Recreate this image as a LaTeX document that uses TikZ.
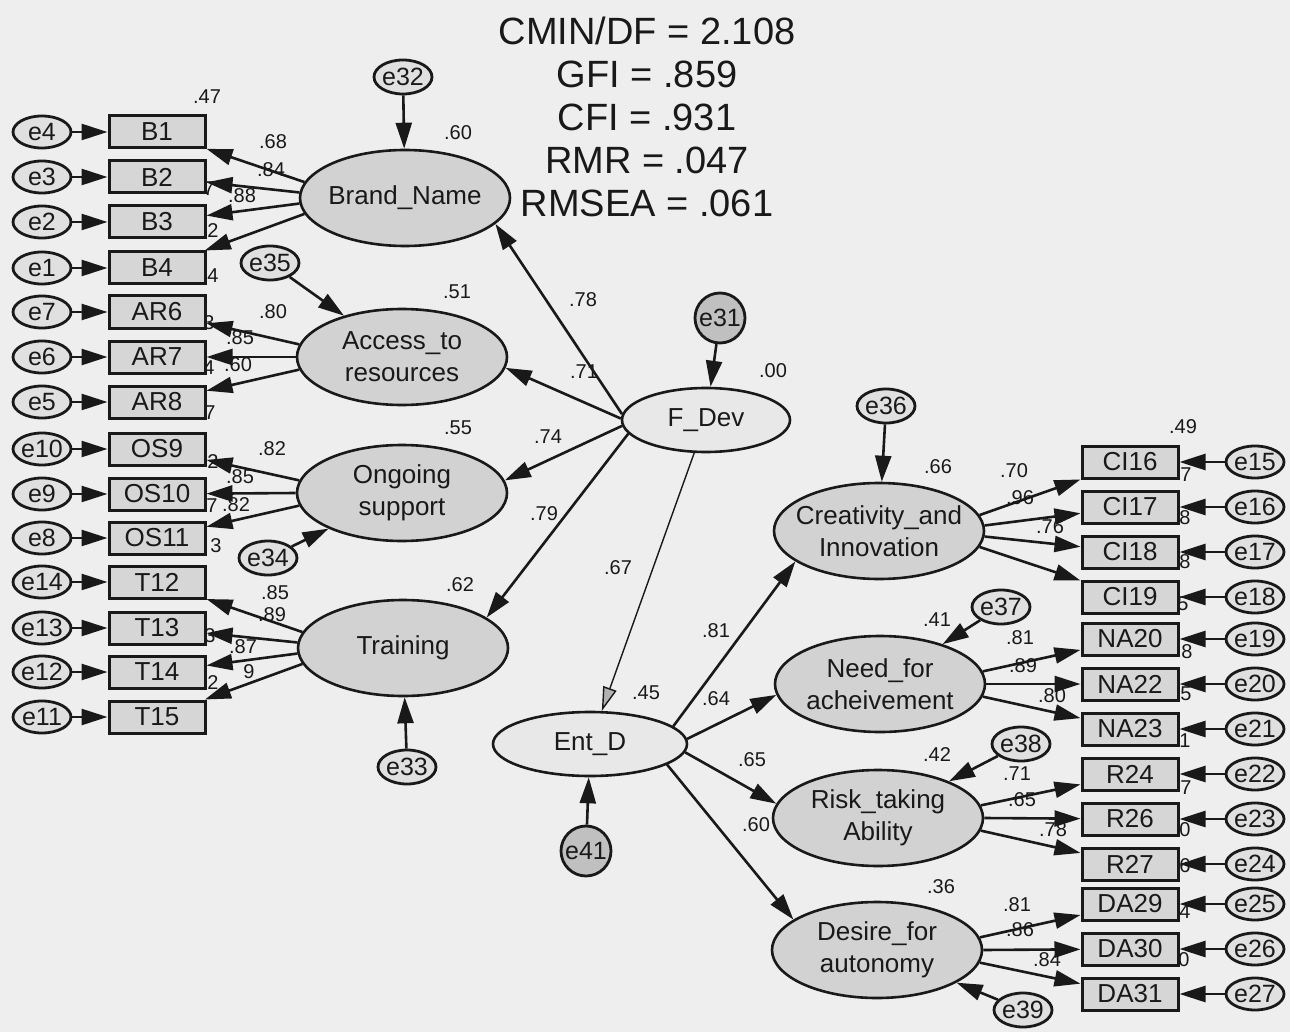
\documentclass[tikz,border=0pt]{standalone}
\usepackage{fontspec}
\setmainfont{Liberation Sans}
\usetikzlibrary{arrows.meta,shapes.geometric}
\definecolor{bggray}{RGB}{238,238,238}
\definecolor{boxgray}{RGB}{214,214,214}
\definecolor{latgray}{RGB}{210,210,210}
\definecolor{secgray}{RGB}{232,232,232}
\definecolor{errgray}{RGB}{224,224,224}
\definecolor{circgray}{RGB}{192,192,192}
\definecolor{inkgray}{RGB}{25,25,25}

\begin{document}
\begin{tikzpicture}[x=0.5pt, y=-0.5pt,
    every node/.style={inner sep=0pt, text=inkgray},
    arr/.style={draw=inkgray, line width=1.3pt, -{Triangle[length=13pt,width=8pt]}},
    thinarr/.style={draw=inkgray, line width=0.7pt, -{Triangle[length=12pt,width=7pt,fill=gray!60]}},
    indbox/.style={draw=inkgray, line width=1.5pt, fill=boxgray, minimum width=48pt, minimum height=16pt, font=\fontsize{13}{13}\selectfont},
    errell/.style={ellipse, draw=inkgray, line width=1.4pt, fill=errgray, minimum width=29pt, minimum height=16pt, inner xsep=-2pt, font=\fontsize{12.5}{12.5}\selectfont},
    errlat/.style={errell, minimum width=29pt, minimum height=17pt},
    errcirc/.style={circle, draw=inkgray, line width=1.4pt, fill=circgray, minimum size=25pt, font=\fontsize{12.5}{12.5}\selectfont},
    latent/.style={ellipse, draw=inkgray, line width=1.3pt, fill=latgray, minimum width=105pt, minimum height=48pt, inner xsep=-10pt, align=center, font=\fontsize{13}{16}\selectfont},
    second/.style={latent, fill=secgray, minimum height=32pt},
    num/.style={font=\fontsize{10}{10}\selectfont},
    fitstats/.style={align=center, font=\fontsize{19}{21.5}\selectfont}]

    % 1. Page background (photo of a printed page)
    \fill[bggray] (0,0) rectangle (1290,1032);
    \useasboundingbox (0,0) rectangle (1290,1032);

    % 2. Estimates (drawn first, the arrows lie over them)
    \foreach \t/\x/\y [count=\i] in {.47/207/97, .68/273/142, .84/271/170, .88/242/196,
        7/209/189, 2/213/231, 4/213/276, 3/209/323, 4/209/368, 7/210/413,
        2/213/462, 7/212/506, 3/216/546, 3/210/636, 2/213/683,
        .80/273/312, .85/240/338, .60/238/365, .82/272/449, .85/240/477, .82/236/505,
        .85/275/593, .89/272/615, .87/243/647, 9/249/672,
        .60/458/133, .51/457/292, .55/458/428, .62/460/585,
        .78/583/300, .71/584/372, .74/548/437, .79/544/514, .67/618/568, .00/773/371,
        .45/646/693, .81/716/631, .64/716/699, .65/752/760, .60/756/825,
        .49/1183/427, .66/938/467, .70/1014/471, .96/1020/498, .76/1050/527,
        7/1186/475, 8/1185/518, 8/1185/562, 5/1183/604,
        .41/937/620, .81/1020/638, .89/1023/666, .80/1052/696,
        8/1187/652, 5/1186/694, 1/1185/741,
        .42/937/755, .71/1017/774, .65/1022/800, .78/1053/830,
        7/1186/788, 0/1185/830, 6/1185/866,
        .36/941/887, .81/1017/905, .86/1020/930, .84/1047/960,
        4/1185/912, 0/1184/960}
        \node[num] (n\i) at (\x,\y) {\t};

    % 3. Fit indices
    \node[fitstats] (fit) at (647,117) {CMIN/DF = 2.108\\GFI = .859\\CFI = .931\\RMR = .047\\RMSEA = .061};

    % 4. First-order factors
    \node[latent] (BN) at (405,198) {Brand\_Name};
    \node[latent] (AR) at (402,357) {Access\_to\\resources};
    \node[latent] (OS) at (402,493) {Ongoing\\support};
    \node[latent] (TR) at (403,648) {Training};
    \node[latent] (CI) at (879,531) {Creativity\_and\\Innovation};
    \node[latent] (NA) at (880,684) {Need\_for\\acheivement};
    \node[latent] (RT) at (878,818) {Risk\_taking\\Ability};
    \node[latent] (DA) at (877,950) {Desire\_for\\autonomy};

    % 5. Second-order factors
    \node[second, minimum width=84pt] (FDev) at (706,420) {F\_Dev};
    \node[second, minimum width=97pt] (EntD) at (590,744) {Ent\_D};

    % 6. Disturbances
    \node[errlat] (e32) at (403,77) {e32};
    \node[errlat] (e35) at (270,263) {e35};
    \node[errlat] (e34) at (268,558) {e34};
    \node[errlat] (e33) at (407,767) {e33};
    \node[errlat] (e36) at (886,406) {e36};
    \node[errlat] (e37) at (1001,607) {e37};
    \node[errlat] (e38) at (1021,744) {e38};
    \node[errlat] (e39) at (1023,1010) {e39};
    \node[errcirc] (e31) at (720,318) {e31};
    \node[errcirc] (e41) at (586,851) {e41};
    \foreach \err/\lat in {e32/BN, e35/AR, e34/OS, e33/TR, e36/CI, e37/NA, e38/RT, e39/DA, e31/FDev, e41/EntD}
        \draw[arr] (\err) -- (\lat);

    % 7. Left indicators
    \foreach \lab/\err/\y/\lat/\ang in {B1/e4/132/BN/171, B2/e3/177/BN/177, B3/e2/222/BN/183, B4/e1/268/BN/189,
        AR6/e7/312/AR/173, AR7/e6/357/AR/180, AR8/e5/402/AR/187,
        OS9/e10/449/OS/173, OS10/e9/494/OS/180, OS11/e8/538/OS/187,
        T12/e14/582/TR/171, T13/e13/628/TR/177, T14/e12/672/TR/183, T15/e11/717/TR/189}{
        \node[indbox] (\lab) at (157,\y) {\lab};
        \node[errell] (\err) at (42,\y) {\err};
        \draw[arr] (\err) -- (\lab);
        \draw[arr] (\lat.\ang) -- (\lab);
    }

    % 8. Right indicators
    \foreach \lab/\err/\y/\lat/\ang in {CI16/e15/462/CI/9, CI17/e16/507/CI/3, CI18/e17/552/CI/-3, CI19/e18/597/CI/-9,
        NA20/e19/639/NA/7, NA22/e20/684/NA/0, NA23/e21/729/NA/-7,
        R24/e22/774/RT/7, R26/e23/819/RT/0, R27/e24/864/RT/-7,
        DA29/e25/904/DA/7, DA30/e26/949/DA/0, DA31/e27/994/DA/-7}{
        \node[indbox] (\lab) at (1130,\y) {\lab};
        \node[errell] (\err) at (1255,\y) {\err};
        \draw[arr] (\err) -- (\lab);
        \draw[arr] (\lat.\ang) -- (\lab);
    }

    % 9. Structural paths
    \draw[arr] (FDev.176) -- (BN.-16);
    \draw[arr] (FDev.179) -- (AR.-6);
    \draw[arr] (FDev.184) -- (OS.7);
    \draw[arr] (FDev.190) -- (TR.20);
    \draw[thinarr] (FDev) -- (EntD);
    \draw[arr] (EntD.12) -- (CI.200);
    \draw[arr] (EntD.3) -- (NA.186);
    \draw[arr] (EntD.-5) -- (RT.172);
    \draw[arr] (EntD.-15) -- (DA.160);
\end{tikzpicture}
\end{document}
